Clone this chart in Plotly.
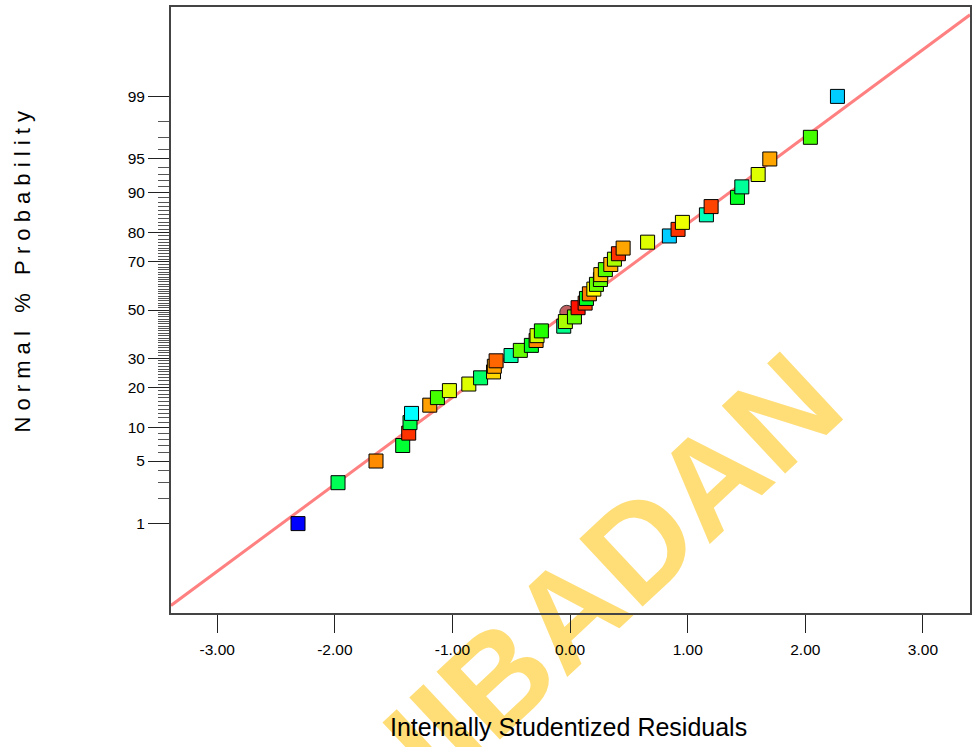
import plotly.graph_objects as go
from statistics import NormalDist

# Normal probability plot of internally studentized residuals
_nd = NormalDist()


def to_z(pct):
    """Map a cumulative percentage to its standard normal quantile."""
    return _nd.inv_cdf(pct / 100.0)


# cumulative probability (%) of each ranked residual
prob_pct = [1, 3, 5, 7, 9, 11, 13, 15, 17, 19,
            21, 23, 25, 27, 29, 31, 33, 35, 37, 39,
            41, 43, 45, 47, 49, 51, 53, 55, 57, 59,
            61, 63, 65, 67, 69, 71, 73, 75, 77, 79,
            81, 83, 85, 87, 89, 91, 93, 95, 97, 99]

residuals = [-2.313, -1.973, -1.650, -1.423, -1.372, -1.361, -1.348, -1.193, -1.128, -1.026,
             -0.861, -0.761, -0.651, -0.644, -0.629, -0.502, -0.423, -0.329, -0.289, -0.281,
             -0.244, -0.054, -0.040, 0.037, -0.028, 0.068, 0.128, 0.139, 0.164, 0.202,
             0.224, 0.258, 0.261, 0.300, 0.346, 0.377, 0.411, 0.451, 0.659, 0.844,
             0.918, 0.955, 1.159, 1.199, 1.423, 1.460, 1.599, 1.698, 2.043, 2.273]

point_colors = ["#0000FF", "#00FF55", "#FF8C00", "#00FF33", "#FF3300", "#00FF44", "#00FFFF", "#FFA000", "#44FF00", "#DDFF00",
                "#DDFF00", "#00FF66", "#FFD700", "#FFA000", "#FF6600", "#00FFAA", "#66FF00", "#00FF22", "#FF8800", "#CCFF00",
                "#22FF00", "#00FF88", "#AAFF00", "#66FF00", "#C06060", "#FF1100", "#FF4400", "#00FF22", "#FF8000", "#FFFF00",
                "#66FF00", "#66FF00", "#FFC000", "#55FF00", "#FFB000", "#AAFF00", "#FF3300", "#FFA500", "#DDFF00", "#00CCFF",
                "#FF3300", "#EEFF00", "#00FFBB", "#FF4400", "#00FF22", "#00FF99", "#DDFF00", "#FFA500", "#44FF00", "#00CCFF"]

# rank of the run drawn as a circle
circle_rank = 25

# probability axis labels and the unlabeled 1 % steps between them
major_pct = [1, 5, 10, 20, 30, 50, 70, 80, 90, 95, 99]
major_text = ["1", "5", "10", "20", "30", "50", "70", "80", "90", "95", "99"]
minor_pct = [p for p in range(1, 100) if p not in major_pct]

x_ticks = [-3, -2, -1, 0, 1, 2, 3]
x_tick_text = ["-3.00", "-2.00", "-1.00", "0.00", "1.00", "2.00", "3.00"]

x_range = [-3.393, 3.40]
z_range = [-3.30, 3.30]

# reference normal line
line_slope = 0.947
line_intercept = -0.005

fig = go.Figure()

fig.add_trace(go.Scatter(
    x=x_range,
    y=[line_intercept + line_slope * v for v in x_range],
    mode="lines",
    line=dict(color="#FF8080", width=3),
    hoverinfo="skip",
    showlegend=False,
))

ci = circle_rank - 1
fig.add_trace(go.Scatter(
    x=[residuals[ci]],
    y=[to_z(prob_pct[ci])],
    mode="markers",
    marker=dict(symbol="circle", size=14, color=point_colors[ci],
                line=dict(color="#303030", width=1)),
    showlegend=False,
))

sq = [i for i in range(len(residuals)) if i != ci]
fig.add_trace(go.Scatter(
    x=[residuals[i] for i in sq],
    y=[to_z(prob_pct[i]) for i in sq],
    mode="markers",
    marker=dict(symbol="square", size=14, color=[point_colors[i] for i in sq],
                line=dict(color="#000000", width=1)),
    showlegend=False,
))

font = "Arial, Liberation Sans, sans-serif"
nb = "\u00a0"
y_title = (nb * 3).join(nb.join(word) for word in ["Normal", "%", "Probability"])

fig.update_layout(
    width=978,
    height=747,
    margin=dict(l=171, r=8, t=5, b=134),
    paper_bgcolor="white",
    plot_bgcolor="rgba(0,0,0,0)",
    showlegend=False,
    font=dict(family=font, size=15.5, color="black"),
    xaxis=dict(
        range=x_range,
        tickmode="array",
        tickvals=x_ticks,
        ticktext=x_tick_text,
        ticks="outside",
        ticklen=18,
        tickwidth=1,
        tickcolor="#222222",
        ticklabelstandoff=3,
        tickfont=dict(family=font, size=15.5, color="black"),
        showgrid=False,
        zeroline=False,
        showline=True,
        linecolor="#444444",
        linewidth=2,
        mirror=True,
    ),
    yaxis=dict(
        range=z_range,
        tickmode="array",
        tickvals=[to_z(p) for p in major_pct],
        ticktext=major_text,
        ticks="outside",
        ticklen=21,
        tickwidth=1,
        tickcolor="#222222",
        tickfont=dict(family=font, size=15.5, color="black"),
        minor=dict(
            tickmode="array",
            tickvals=[to_z(p) for p in minor_pct],
            ticks="outside",
            ticklen=11,
            tickwidth=1,
            tickcolor="#555555",
            showgrid=False,
        ),
        showgrid=False,
        zeroline=False,
        showline=True,
        linecolor="#444444",
        linewidth=2,
        mirror=True,
    ),
    shapes=[
        dict(
            type="rect", xref="paper", yref="paper",
            x0=0.474, x1=0.554, y0=0.011, y1=0.091,
            line=dict(width=0), fillcolor="rgba(0,0,0,0)",
            layer="below",
            label=dict(
                text="<b>UIBADAN</b>",
                textangle=-43,
                textposition="middle center",
                font=dict(family="Liberation Sans, Arial, sans-serif",
                          size=135, color="#FFDD77"),
            ),
        )
    ],
    annotations=[
        dict(
            text="Internally Studentized Residuals",
            xref="paper", yref="paper",
            x=0.4975, y=-0.1875,
            xanchor="center", yanchor="middle",
            showarrow=False,
            font=dict(family=font, size=25, color="black"),
        ),
        dict(
            text=y_title,
            xref="paper", yref="paper",
            x=-0.186, y=0.564,
            xanchor="center", yanchor="middle",
            textangle=-90,
            showarrow=False,
            font=dict(family=font, size=22, color="black"),
        ),
    ],
)

fig.write_html("out.html")
